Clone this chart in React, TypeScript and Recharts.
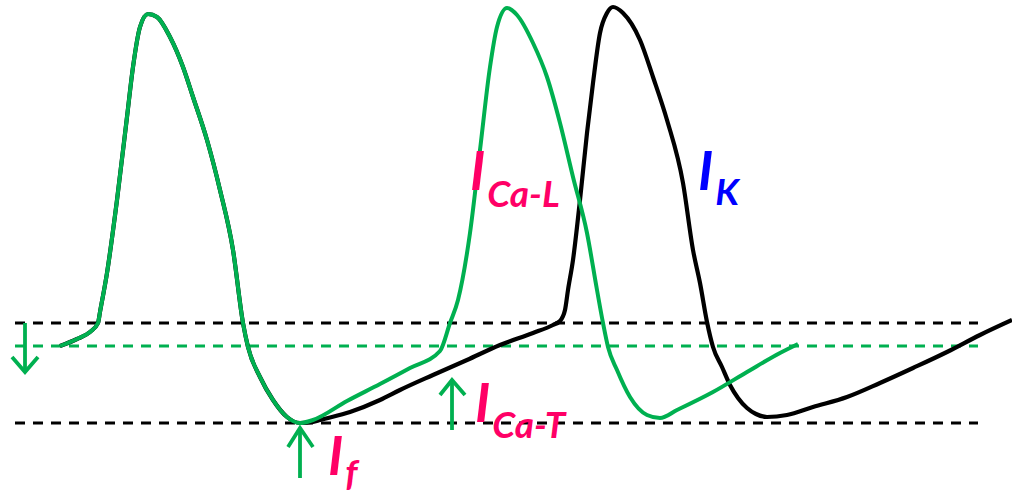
import React from "react";
import { ComposedChart, Line, Scatter, XAxis, YAxis } from "recharts";

// time (arbitrary units) and membrane potential (mV)
const blackT = [60,77,90,98,100,107,117,127,133,140,148,157,170,183,193,207,220,233,243,248,260,273,287,300,313,320,350,380,400,433,467,500,533,553,560,565,568,573,580,587,593,600,607,613,623,640,653,667,683,693,700,707,713,722,730,738,747,756,767,787,813,847,880,913,947,980,1012];
const blackV = [-44.6,-43.2,-41.8,-40,-37.8,-30,-15.4,1.2,11.2,19.2,21.8,21.2,17.2,11.2,5.2,-3.4,-13.4,-25.4,-40,-44.8,-50.8,-55.4,-58.8,-60,-59.8,-59.4,-57.8,-55.4,-53.4,-50.4,-47.4,-44.4,-42,-40.4,-39.6,-37.4,-33.4,-27.4,-15.4,-2,8,18,22,23.2,22,16.6,9.2,0.6,-12,-25.4,-32,-39.8,-44.8,-48.8,-52.4,-55,-57,-58.2,-58.8,-58.4,-56.8,-54.8,-52,-49,-45.8,-42.4,-39.4];

const greenT = [60,77,90,98,100,107,117,127,133,140,148,157,170,183,193,207,220,233,243,248,260,273,287,300,313,347,380,410,440,450,458,470,480,490,497,507,517,533,547,560,573,587,597,603,608,617,630,647,660,677,713,747,780,798];
const greenV = [-44.6,-43.2,-41.8,-40,-37.8,-30,-15.4,1.2,11.2,19.2,21.8,21.2,17.2,11.2,5.2,-3.4,-13.4,-25.4,-40,-44.8,-50.8,-55.4,-58.8,-60,-59.4,-55.6,-52.2,-49,-45.6,-40,-35.4,-22,-5.4,11.2,19.2,23,21.6,16,9.2,0,-10.8,-22,-33.4,-40,-44.8,-49.4,-54.8,-58.4,-59,-57.4,-53.8,-49.8,-46,-44.2];

// reference levels
const thresholdV = -40;
const shiftedThresholdV = -44.6;
const mddV = -60;
const levelStartT = 15;
const levelEndT = 978;

// arrows: shaft points and head points
const arrowDownShaft = [{ t: 25, v: -40 }, { t: 25, v: -49.8 }];
const arrowDownHead = [{ t: 12, v: -46.8 }, { t: 25, v: -49.8 }, { t: 38, v: -46.8 }];
const arrowIfShaft = [{ t: 300, v: -71 }, { t: 300, v: -61 }];
const arrowIfHead = [{ t: 288, v: -64.8 }, { t: 300, v: -61 }, { t: 313, v: -64.8 }];
const arrowCaTShaft = [{ t: 452, v: -61.4 }, { t: 452, v: -51.4 }];
const arrowCaTHead = [{ t: 440, v: -54.4 }, { t: 452, v: -51.4 }, { t: 465, v: -54.4 }];

// labels
const labelMain = ["I", "I", "I", "I"];
const labelSub = ["f", "Ca-T", "Ca-L", "K"];
const labelT = [328, 475, 470, 698];
const labelV = [-70.4, -59.8, -13.4, -13.4];
const labelColor = ["#FF0066", "#FF0066", "#FF0066", "#0000FF"];
const labelSubDy = [11, 16, 17, 15];

const GREEN = "#00B050";

const blackData = blackT.map((t, i) => ({ t, v: blackV[i] }));
const greenData = greenT.map((t, i) => ({ t, v: greenV[i] }));
const levelLine = (v: number) => [{ t: levelStartT, v }, { t: levelEndT, v }];
const labelData = labelT.map((t, i) => ({
  t,
  v: labelV[i],
  main: labelMain[i],
  sub: labelSub[i],
  color: labelColor[i],
  dy: labelSubDy[i],
}));

const LabelShape = (props: any) => {
  const { cx, cy, payload } = props;
  return (
    <text
      x={cx}
      y={cy}
      fill={payload.color}
      fontFamily="Lato, 'Open Sans', sans-serif"
      fontWeight={700}
      fontStyle="italic"
    >
      <tspan fontSize={54}>{payload.main}</tspan>
      <tspan fontSize={37} dy={payload.dy} dx={2}>{payload.sub}</tspan>
    </text>
  );
};

export default function App() {
  const common = { isAnimationActive: false, dot: false, activeDot: false, dataKey: "v" } as any;
  return (
    <div style={{ position: "absolute", left: 0, top: 0, width: 1012, height: 498, background: "#fff" }}>
      <ComposedChart width={1012} height={498} margin={{ top: 0, right: 0, bottom: 0, left: 0 }}>
        <XAxis type="number" dataKey="t" domain={[0, 1012]} hide allowDataOverflow />
        <YAxis type="number" domain={[-75, 24.6]} hide allowDataOverflow />
        <Line {...common} data={levelLine(thresholdV)} type="linear" stroke="#000" strokeWidth={2.8} strokeDasharray="10 8" />
        <Line {...common} data={levelLine(shiftedThresholdV)} type="linear" stroke={GREEN} strokeWidth={2.8} strokeDasharray="10 8" />
        <Line {...common} data={levelLine(mddV)} type="linear" stroke="#000" strokeWidth={2.8} strokeDasharray="10 8" />
        <Line {...common} data={blackData} type="monotone" stroke="#000" strokeWidth={4.2} />
        <Line {...common} data={greenData} type="monotone" stroke={GREEN} strokeWidth={4} />
        <Line {...common} data={arrowDownShaft} type="linear" stroke={GREEN} strokeWidth={3.8} />
        <Line {...common} data={arrowDownHead} type="linear" stroke={GREEN} strokeWidth={3.8} />
        <Line {...common} data={arrowIfShaft} type="linear" stroke={GREEN} strokeWidth={3.8} />
        <Line {...common} data={arrowIfHead} type="linear" stroke={GREEN} strokeWidth={3.8} />
        <Line {...common} data={arrowCaTShaft} type="linear" stroke={GREEN} strokeWidth={3.8} />
        <Line {...common} data={arrowCaTHead} type="linear" stroke={GREEN} strokeWidth={3.8} />
        <Scatter data={labelData} dataKey="v" isAnimationActive={false} shape={LabelShape} />
      </ComposedChart>
    </div>
  );
}
